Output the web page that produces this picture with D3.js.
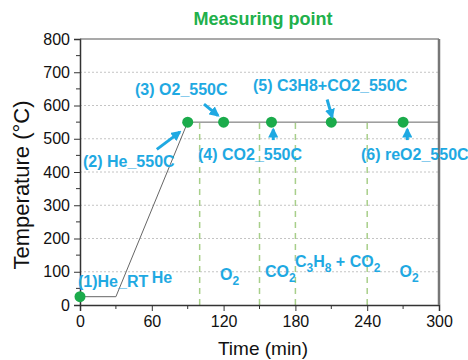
<!DOCTYPE html>
<html>
<head>
<meta charset="utf-8">
<script src="https://cdn.jsdelivr.net/npm/d3@7"></script>
<style>
  body { margin: 0; background: #fff; overflow: hidden; }
  svg { display: block; }
  text { font-family: "Liberation Sans", Arial, sans-serif; }
  .ann { fill: #1fa9e2; font-weight: bold; font-size: 16px; }
</style>
</head>
<body>
<div id="chart"></div>
<script>
// temperature program
const tempTime = [0, 30, 90, 300];
const tempValue = [25, 25, 550, 550];
// measuring points
const pointTime = [0, 90, 120, 160, 210, 270];
const pointTemp = [25, 550, 550, 550, 550, 550];
// gas switch times
const switchTimes = [100, 150, 180, 240];
const xTicks = [0, 60, 120, 180, 240, 300];
const yTicks = [0, 100, 200, 300, 400, 500, 600, 700, 800];

const width = 468, height = 360;
const margin = { left: 80, right: 29, top: 39, bottom: 55 };
const innerWidth = width - margin.left - margin.right;
const innerHeight = height - margin.top - margin.bottom;

const svg = d3.select("#chart").append("svg")
    .attr("width", width)
    .attr("height", height);

const g = svg.append("g")
    .attr("transform", `translate(${margin.left},${margin.top})`);

const xScale = d3.scaleLinear().domain([0, 300]).range([0, innerWidth]);
const yScale = d3.scaleLinear().domain([0, 800]).range([innerHeight, 0]);

const cyan = "#1fa9e2";
const green = "#1bab4b";

// horizontal dotted grid
g.selectAll("line.grid").data(yTicks.slice(1, -1))
    .enter().append("line")
    .attr("class", "grid")
    .attr("x1", 0).attr("x2", innerWidth)
    .attr("y1", d => yScale(d)).attr("y2", d => yScale(d))
    .attr("stroke", "#b5b5b5")
    .attr("stroke-width", 0.8)
    .attr("stroke-dasharray", "2,2");

// gas switch lines
g.selectAll("line.switch").data(switchTimes)
    .enter().append("line")
    .attr("class", "switch")
    .attr("x1", d => xScale(d)).attr("x2", d => xScale(d))
    .attr("y1", yScale(0)).attr("y2", yScale(550))
    .attr("stroke", "#a8cf8a")
    .attr("stroke-width", 1.5)
    .attr("stroke-dasharray", "6,5");

// axes
const xAxis = d3.axisBottom(xScale).tickValues(xTicks).tickSize(6).tickPadding(5).tickFormat(d3.format("d"));
const yAxis = d3.axisLeft(yScale).tickValues(yTicks).tickSize(6).tickPadding(4).tickFormat(d3.format("d"));

const xAxisG = g.append("g").attr("transform", `translate(0,${innerHeight})`).call(xAxis);
const yAxisG = g.append("g").call(yAxis);

// minor ticks
g.selectAll("line.xminor").data(d3.range(30, 300, 60))
    .enter().append("line")
    .attr("x1", d => xScale(d)).attr("x2", d => xScale(d))
    .attr("y1", innerHeight).attr("y2", innerHeight + 4)
    .attr("stroke", "#333");
g.selectAll("line.yminor").data(d3.range(50, 800, 100))
    .enter().append("line")
    .attr("x1", -4).attr("x2", 0)
    .attr("y1", d => yScale(d)).attr("y2", d => yScale(d))
    .attr("stroke", "#333");

[xAxisG, yAxisG].forEach(a => {
    a.select(".domain").attr("stroke", "#333").attr("stroke-width", 1.5);
    a.selectAll(".tick line").attr("stroke", "#333");
    a.selectAll(".tick text").attr("font-size", 16).attr("fill", "#111")
        .style("font-family", "Liberation Sans, Arial, sans-serif");
});

// frame top & right
g.append("line").attr("x1", 0).attr("x2", innerWidth).attr("y1", 0).attr("y2", 0)
    .attr("stroke", "#555").attr("stroke-width", 1.2);
g.append("line").attr("x1", innerWidth).attr("x2", innerWidth).attr("y1", 0).attr("y2", innerHeight)
    .attr("stroke", "#777").attr("stroke-width", 2.5);

// temperature line
const line = d3.line()
    .x((d, i) => xScale(tempTime[i]))
    .y(d => yScale(d));
g.append("path")
    .datum(tempValue)
    .attr("d", line)
    .attr("fill", "none")
    .attr("stroke", "#666")
    .attr("stroke-width", 1);

// measuring points
g.selectAll("circle").data(pointTemp)
    .enter().append("circle")
    .attr("cx", (d, i) => xScale(pointTime[i]))
    .attr("cy", d => yScale(d))
    .attr("r", 5.5)
    .attr("fill", green);

// title
svg.append("text")
    .attr("x", 263).attr("y", 25)
    .attr("text-anchor", "middle")
    .attr("font-size", 18).attr("font-weight", "bold")
    .attr("fill", "#21b04b")
    .text("Measuring point");

// axis labels
svg.append("text")
    .attr("x", 263).attr("y", 355)
    .attr("text-anchor", "middle")
    .attr("font-size", 19).attr("fill", "#111")
    .text("Time (min)");
svg.append("text")
    .attr("transform", `translate(29,185) rotate(-90)`)
    .attr("text-anchor", "middle")
    .attr("font-size", 22).attr("fill", "#111")
    .text("Temperature (°C)");

// step labels
const stepLabels = ["(1)He_RT", "(2) He_550C", "(3) O2_550C", "(4) CO2_550C", "(5) C3H8+CO2_550C", "(6) reO2_550C"];
const stepLabelX = [-1.7, 2.5, 46, 98.6, 144.5, 234.8];
const stepLabelY = [54, 415, 632, 436, 644, 436];

g.selectAll("text.step").data(stepLabels)
    .enter().append("text")
    .attr("class", "ann step")
    .attr("x", (d, i) => xScale(stepLabelX[i]))
    .attr("y", (d, i) => yScale(stepLabelY[i]))
    .text(d => d);

// gas labels with subscripts
const gasLabels = [
    [["He", ""]],
    [["O", ""], ["2", "sub"]],
    [["CO", ""], ["2", "sub"]],
    [["C", ""], ["3", "sub"], ["H", ""], ["8", "sub"], [" + CO", ""], ["2", "sub"]],
    [["O", ""], ["2", "sub"]]
];
const gasLabelX = [60, 117, 154.5, 179.6, 267];
const gasLabelY = [66, 75, 84, 114, 84];

gasLabels.forEach((parts, i) => {
    const t = g.append("text").attr("class", "ann")
        .attr("x", xScale(gasLabelX[i]))
        .attr("y", yScale(gasLabelY[i]));
    let prevSub = false;
    parts.forEach(p => {
        const isSub = p[1] === "sub";
        const ts = t.append("tspan").text(p[0]);
        if (isSub) ts.attr("font-size", 12).attr("dy", 5);
        else if (prevSub) ts.attr("dy", -5);
        prevSub = isSub;
    });
});

// arrows
svg.append("defs").append("marker")
    .attr("id", "head")
    .attr("viewBox", "0 0 10 10")
    .attr("refX", 8).attr("refY", 5)
    .attr("markerWidth", 3.4).attr("markerHeight", 3.4)
    .attr("orient", "auto")
    .append("path").attr("d", "M0,0 L10,5 L0,10 Z").attr("fill", cyan);

// arrow [fromTime, fromTemp] -> [toTime, toTemp]
const arrowFromX = [64.2, 103.6, 206.5, 161.5, 273.5];
const arrowFromY = [468, 604, 618, 496, 496];
const arrowToX = [83.4, 115.3, 210.7, 161.5, 273.5];
const arrowToY = [520, 570, 565, 528, 528];

g.selectAll("line.arrow").data(arrowFromX)
    .enter().append("line")
    .attr("x1", (d, i) => xScale(d))
    .attr("y1", (d, i) => yScale(arrowFromY[i]))
    .attr("x2", (d, i) => xScale(arrowToX[i]))
    .attr("y2", (d, i) => yScale(arrowToY[i]))
    .attr("stroke", cyan)
    .attr("stroke-width", 3)
    .attr("marker-end", "url(#head)");
</script>
</body>
</html>
